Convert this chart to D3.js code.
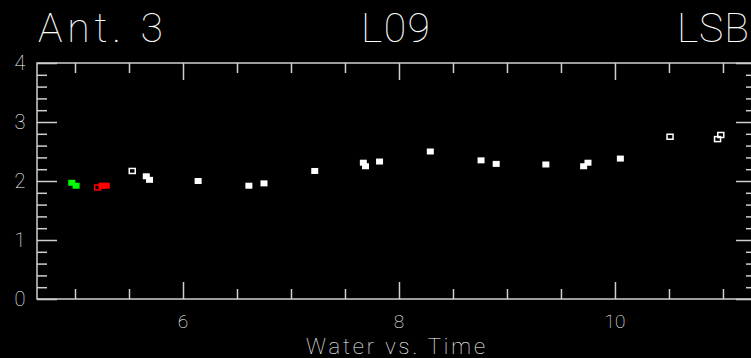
<!DOCTYPE html>
<html>
<head>
<meta charset="utf-8">
<script src="https://cdn.jsdelivr.net/npm/d3@7"></script>
<style>
  body { margin: 0; background: #000; }
  svg { display: block; }
  text { font-family: Roboto, "DejaVu Sans", sans-serif; font-weight: 100; fill: #fff; }
</style>
</head>
<body>
<svg id="vis" width="751" height="358"></svg>
<script>
// Datos
const titles = ["Ant. 3", "L09", "LSB"];
const xLabel = "Water vs. Time";
const xMajor = [6, 8, 10];
const yMajor = [0, 1, 2, 3, 4];

const greenX = [4.97, 5.01];
const greenY = [1.97, 1.92];
const redX = [5.25, 5.29];
const redY = [1.92, 1.92];
const redOpenX = [5.21];
const redOpenY = [1.89];
const whiteX = [5.66, 5.69, 6.14, 6.61, 6.75, 7.22, 7.67, 7.69, 7.82, 8.29, 8.76, 8.90, 9.36, 9.71, 9.75, 10.05];
const whiteY = [2.08, 2.02, 2.00, 1.92, 1.96, 2.17, 2.31, 2.25, 2.33, 2.50, 2.35, 2.29, 2.28, 2.25, 2.31, 2.38];
const openX = [5.53, 10.51, 10.98, 10.95];
const openY = [2.17, 2.75, 2.78, 2.71];

const SVG = d3.select("#vis");
const L = 37, R = 756, T = 63, B = 299;
const axisColor = "#cfcfcf";

const x = d3.scaleLinear().domain([4.648, 11.306]).range([L, R]);
const y = d3.scaleLinear().domain([0, 4]).range([B, T]);

const xMinor = d3.range(4.5, 11.5, 0.5).filter(v => v % 2 !== 0 && v > 4.65 && v < 11.3);
const yMinor = d3.range(0, 4.01, 0.2).map(v => +v.toFixed(1)).filter(v => v % 1 !== 0);

function styleAxis(g) {
  g.select(".domain").remove();
  g.selectAll("line").attr("stroke", axisColor).attr("stroke-width", 1.5);
  g.selectAll("text").remove();
}

// ejes: abajo, arriba, izquierda, derecha (ticks hacia adentro)
SVG.append("g").attr("transform", `translate(0,${B})`).call(d3.axisBottom(x).tickValues(xMajor).tickSize(-17)).call(styleAxis);
SVG.append("g").attr("transform", `translate(0,${B})`).call(d3.axisBottom(x).tickValues(xMinor).tickSize(-10)).call(styleAxis);
SVG.append("g").attr("transform", `translate(0,${T})`).call(d3.axisTop(x).tickValues(xMajor).tickSize(-17)).call(styleAxis);
SVG.append("g").attr("transform", `translate(0,${T})`).call(d3.axisTop(x).tickValues(xMinor).tickSize(-10)).call(styleAxis);
SVG.append("g").attr("transform", `translate(${L},0)`).call(d3.axisLeft(y).tickValues(yMajor).tickSize(-20)).call(styleAxis);
SVG.append("g").attr("transform", `translate(${L},0)`).call(d3.axisLeft(y).tickValues(yMinor).tickSize(-10)).call(styleAxis);
SVG.append("g").attr("transform", `translate(${R},0)`).call(d3.axisRight(y).tickValues(yMajor).tickSize(-20)).call(styleAxis);
SVG.append("g").attr("transform", `translate(${R},0)`).call(d3.axisRight(y).tickValues(yMinor).tickSize(-10)).call(styleAxis);

// marco
SVG.append("rect")
  .attr("x", L).attr("y", T).attr("width", R - L).attr("height", B - T)
  .attr("fill", "none").attr("stroke", axisColor).attr("stroke-width", 1.5);

// etiquetas de ticks
SVG.append("g").selectAll("text").data(xMajor).join("text")
  .attr("x", d => x(d)).attr("y", 328)
  .attr("text-anchor", "middle").attr("font-size", 19)
  .text(d => d);
SVG.append("g").selectAll("text").data(yMajor).join("text")
  .attr("x", 20).attr("y", d => y(d) + 7)
  .attr("text-anchor", "middle").attr("font-size", 20)
  .text(d => d);

// titulos
SVG.append("text").attr("x", 38).attr("y", 42).attr("font-size", 41)
  .attr("textLength", 125).attr("lengthAdjust", "spacing").text(titles[0]);
SVG.append("text").attr("x", 361).attr("y", 42).attr("font-size", 41)
  .attr("textLength", 69).attr("lengthAdjust", "spacing").text(titles[1]);
SVG.append("text").attr("x", 677).attr("y", 42).attr("font-size", 41)
  .attr("textLength", 72).attr("lengthAdjust", "spacing").text(titles[2]);
SVG.append("text").attr("x", 306).attr("y", 354).attr("font-size", 22)
  .attr("textLength", 179).attr("lengthAdjust", "spacing").text(xLabel);

// puntos
function squares(xs, ys, color, open) {
  SVG.append("g").selectAll("rect")
    .data(xs.map((v, i) => [v, ys[i]]))
    .join("rect")
    .attr("x", d => x(d[0]) - (open ? 3 : 3.5))
    .attr("y", d => y(d[1]) - (open ? 2.5 : 3))
    .attr("width", open ? 6 : 7)
    .attr("height", open ? 5 : 6)
    .attr("fill", open ? "none" : color)
    .attr("stroke", open ? color : "none")
    .attr("stroke-width", 1.5);
}
squares(greenX, greenY, "#00ff00", false);
squares(redX, redY, "#ff0000", false);
squares(redOpenX, redOpenY, "#ff0000", true);
squares(whiteX, whiteY, "#ffffff", false);
squares(openX, openY, "#ffffff", true);
</script>
</body>
</html>
